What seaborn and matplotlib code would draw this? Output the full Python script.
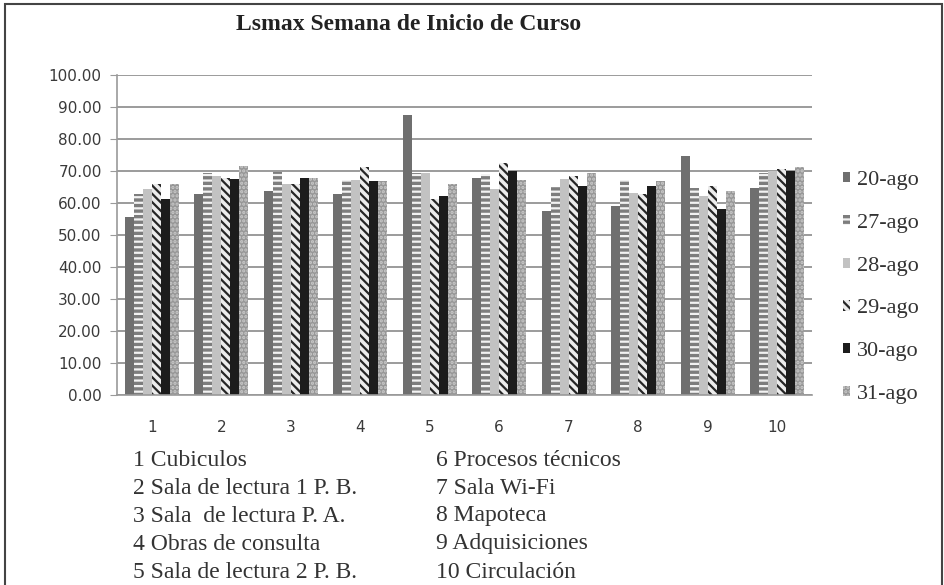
import matplotlib
matplotlib.use("Agg")
import matplotlib.pyplot as plt
import matplotlib.patches as mpatches
import numpy as np
import pandas as pd
import seaborn as sns

areas = ["1", "2", "3", "4", "5", "6", "7", "8", "9", "10"]
fechas = ["20-ago", "27-ago", "28-ago", "29-ago", "30-ago", "31-ago"]

ago20 = [55.6, 62.9, 63.7, 62.9, 87.6, 67.7, 57.5, 59.0, 74.7, 64.6]
ago27 = [62.7, 69.5, 69.8, 67.1, 69.5, 69.2, 65.0, 67.1, 64.6, 69.5]
ago28 = [64.3, 68.4, 65.8, 67.1, 69.5, 64.3, 67.4, 63.2, 62.2, 70.0]
ago29 = [65.8, 67.9, 66.0, 71.1, 61.1, 72.6, 68.4, 62.7, 65.3, 70.5]
ago30 = [61.1, 67.4, 67.7, 66.9, 62.2, 70.0, 65.3, 65.3, 58.0, 70.0]
ago31 = [66.0, 71.6, 67.7, 66.9, 66.0, 67.1, 69.5, 66.9, 63.7, 71.3]

nombres_izq = ["1 Cubiculos", "2 Sala de lectura 1 P. B.", "3 Sala  de lectura P. A.",
               "4 Obras de consulta", "5 Sala de lectura 2 P. B."]
nombres_der = ["6 Procesos técnicos", "7 Sala Wi-Fi", "8 Mapoteca",
               "9 Adquisiciones", "10 Circulación"]

titulo = "Lsmax Semana de Inicio de Curso"
y_ticks = [0, 10, 20, 30, 40, 50, 60, 70, 80, 90, 100]

# look of each series: face, hatch colour, hatch
estilos = {
    "20-ago": ("#6f6f6f", "#6f6f6f", None),
    "27-ago": ("#7d7d7d", "#f2f2f2", "---"),
    "28-ago": ("#c2c2c2", "#c2c2c2", None),
    "29-ago": ("#ececec", "#262626", "\\\\\\\\"),
    "30-ago": ("#1c1c1c", "#1c1c1c", None),
    "31-ago": ("#979797", "#c9c9c9", "...."),
}

valores = [ago20, ago27, ago28, ago29, ago30, ago31]
df = pd.DataFrame({
    "area": np.tile(areas, len(fechas)),
    "fecha": np.repeat(fechas, len(areas)),
    "Lsmax": np.concatenate(valores),
})

sns.set_style("white")
plt.rcParams["font.family"] = ["DejaVu Sans"]
plt.rcParams["hatch.linewidth"] = 1.6
serif = ["Liberation Serif", "DejaVu Serif"]

fig = plt.figure(figsize=(9.45, 5.85), dpi=100)
ax = fig.add_axes([117 / 945, 1 - 395 / 585, (812 - 117) / 945, 320 / 585])

sns.barplot(
    data=df, x="area", y="Lsmax", hue="fecha", order=areas, hue_order=fechas,
    palette=[estilos[f][0] for f in fechas], saturation=1, width=0.77, gap=0,
    legend=False, ax=ax, errorbar=None,
)

for cont, f in zip(ax.containers, fechas):
    face, hc, hatch = estilos[f]
    for bar in cont:
        bar.set_facecolor(face)
        bar.set_edgecolor(hc)
        bar.set_linewidth(0)
        if hatch:
            bar.set_hatch(hatch)

ax.set_ylim(0, 100)
ax.set_xlim(-0.5, 9.5)
ax.set_yticks(y_ticks)
ax.set_yticklabels([f"{v:.2f}" for v in y_ticks])
ax.set_xlabel("")
ax.set_ylabel("")
ax.grid(axis="y", color="#8a8a8a", linewidth=1.2)
ax.set_axisbelow(True)
for s in ["top", "right"]:
    ax.spines[s].set_visible(False)
for s in ["left", "bottom"]:
    ax.spines[s].set_color("#9a9a9a")
    ax.spines[s].set_linewidth(1.2)

ax.set_xticks(np.arange(-0.5, 10, 1), minor=True)
ax.tick_params(axis="x", which="major", length=0, pad=18, labelsize=11, labelcolor="#3a3a3a")
ax.tick_params(axis="x", which="minor", length=5, color="#9a9a9a", direction="out")
ax.tick_params(axis="y", length=5, color="#9a9a9a", direction="out", pad=6,
               labelsize=11, labelcolor="#3a3a3a", left=True)

fig.text(409 / 945, 1 - 25 / 585, titulo, ha="center", va="center",
         fontsize=17, fontweight="bold", family=serif, color="#222222")

handles = []
for f in fechas:
    face, hc, hatch = estilos[f]
    handles.append(mpatches.Patch(facecolor=face, edgecolor=hc, linewidth=0, hatch=hatch, label=f))
fig.legend(handles=handles, loc="upper left", bbox_to_anchor=(832 / 945, 1 - 160 / 585),
           frameon=False, prop={"family": serif, "size": 16}, handlelength=0.33,
           handleheight=0.33, handletextpad=0.3, labelspacing=1.07, borderpad=0,
           labelcolor="#333333")

for i, (a, b) in enumerate(zip(nombres_izq, nombres_der)):
    y = 1 - (460 + i * 28) / 585
    fig.text(133 / 945, y, a, ha="left", va="center", fontsize=17, family=serif, color="#333333")
    fig.text(436 / 945, y, b, ha="left", va="center", fontsize=17, family=serif, color="#333333")

fig.patches.append(mpatches.Rectangle((5 / 945, -0.05), 937 / 945, 1.05 - 4 / 585,
                                      transform=fig.transFigure, fill=False,
                                      edgecolor="#444444", linewidth=1.5))

fig.savefig("out.png", dpi=100)
